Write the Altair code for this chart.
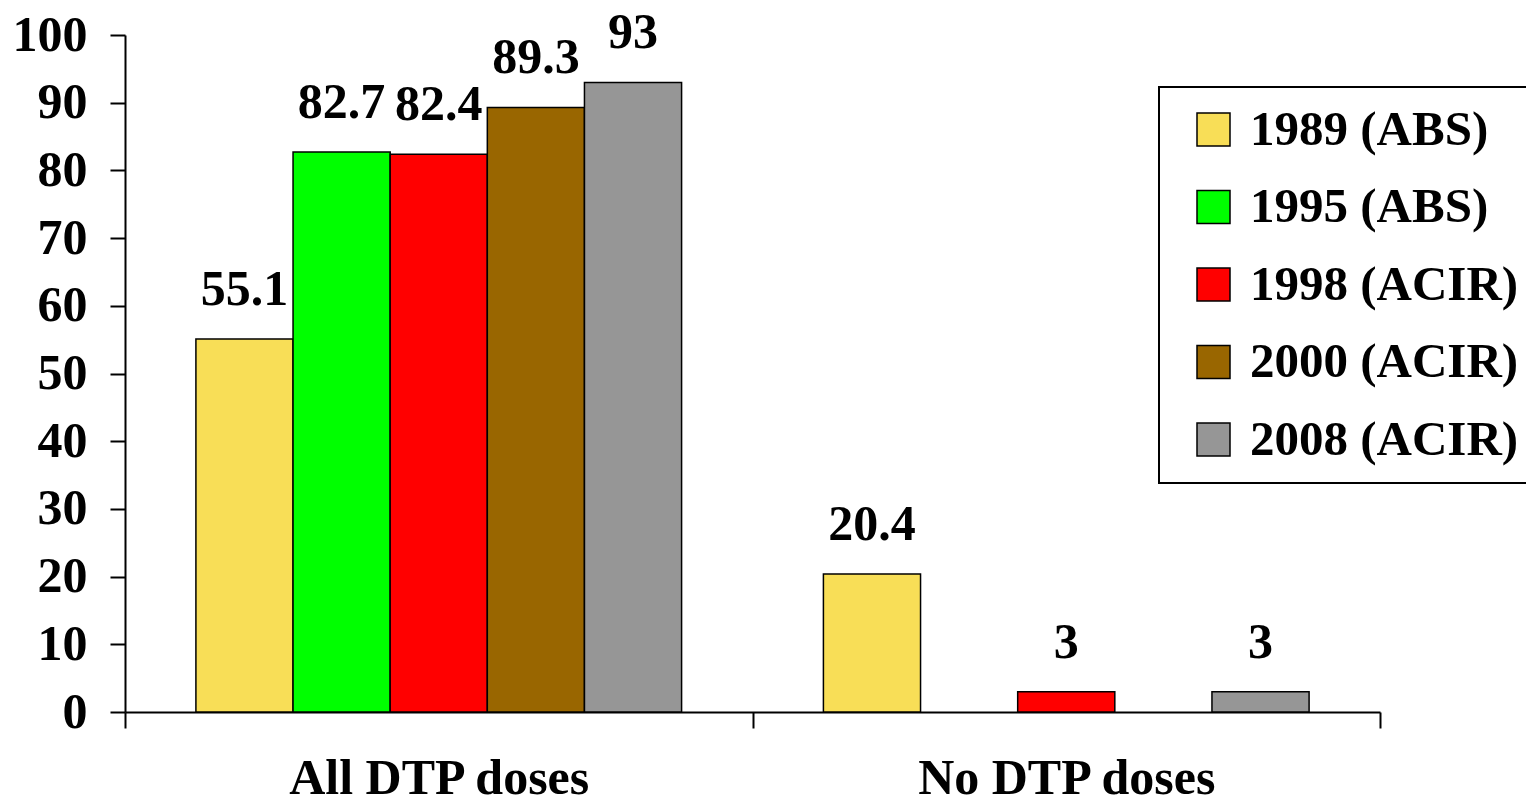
import altair as alt
import pandas as pd

categories = ["All DTP doses", "No DTP doses"]
series = ["1989 (ABS)", "1995 (ABS)", "1998 (ACIR)", "2000 (ACIR)", "2008 (ACIR)"]
colors = ["#F8DE57", "#00FF00", "#FF0000", "#996600", "#969696"]

all_dtp = [55.1, 82.7, 82.4, 89.3, 93]
no_dtp = [20.4, None, 3, None, 3]

rows = []
for cat, vals in zip(categories, [all_dtp, no_dtp]):
    for s, v in zip(series, vals):
        if v is not None:
            rows.append({"category": cat, "series": s, "value": v, "label": f"{v:g}"})
df = pd.DataFrame(rows)

FONT = "Liberation Serif"

x = alt.X("category:N", sort=categories,
          scale=alt.Scale(paddingInner=0, paddingOuter=0),
          axis=alt.Axis(title=None, labelAngle=0, tickBand="extent", tickSize=16,
                        labelPadding=25, labelFontSize=50, labelFont=FONT,
                        labelFontWeight="bold", labelColor="black", labelLimit=0,
                        domainColor="black", domainWidth=2,
                        tickColor="black", tickWidth=2))
xo = alt.XOffset("series:N", sort=series,
                 scale=alt.Scale(domain=series, paddingInner=0, paddingOuter=0.73))
y = alt.Y("value:Q", scale=alt.Scale(domain=[0, 100]),
          axis=alt.Axis(values=list(range(0, 101, 10)), title=None, grid=False,
                        tickSize=15, labelPadding=23, labelFontSize=50, labelFont=FONT,
                        labelFontWeight="bold", labelColor="black",
                        domainColor="black", domainWidth=2,
                        tickColor="black", tickWidth=2))

bars = alt.Chart(df).mark_bar(stroke="black", strokeWidth=1.5).encode(
    x=x, xOffset=xo, y=y,
    color=alt.Color("series:N", sort=series,
                    scale=alt.Scale(domain=series, range=colors),
                    legend=alt.Legend(title=None, orient="none", legendX=1034, legendY=52,
                                      fillColor="white", strokeColor="black",
                                      padding=18, symbolOffset=12, symbolType="square",
                                      symbolSize=1089, symbolStrokeColor="black",
                                      symbolStrokeWidth=1.5, symbolOpacity=1,
                                      labelFont=FONT, labelFontSize=49,
                                      labelFontWeight="bold", labelColor="black",
                                      labelOffset=12, labelLimit=0, rowPadding=27.5)),
)

text = alt.Chart(df).mark_text(font=FONT, fontSize=50, fontWeight="bold",
                               baseline="alphabetic", dy=-34, color="black").encode(
    x=x, xOffset=xo, y=y, text="label:N"
)

chart = alt.layer(bars, text).properties(
    width=1255, height=677,
    padding={"left": 117, "top": 27, "right": 146, "bottom": 85},
    autosize=alt.AutoSizeParams(type="none"),
).configure_view(stroke=None).configure_legend(strokeWidth=2)

chart.save("out.html", embed_options={"renderer": "svg", "actions": False})
